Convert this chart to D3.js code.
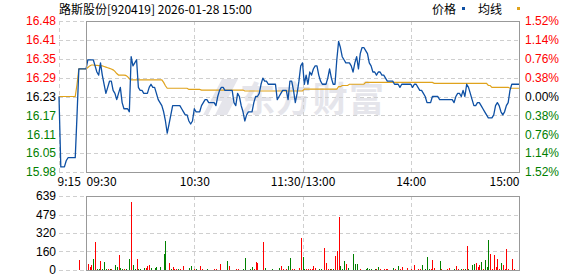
<!DOCTYPE html>
<html>
<head>
<meta charset="utf-8">
<script src="https://cdn.jsdelivr.net/npm/d3@7"></script>
<style>
  html, body { margin: 0; padding: 0; background: #fff; }
  svg { display: block; }
  .num { font-family: "Liberation Sans", Arial, sans-serif; font-size: 12px; }
  .cjk { font-family: "Noto Sans CJK SC", sans-serif; font-size: 12px; }
</style>
</head>
<body>
<div id="chart"></div>
<script>
// Intraday chart - 路斯股份 920419, 2026-01-28

// Data
const title = '路斯股份[920419] 2026-01-28 15:00';
const preClose = 16.23;

// 9:15 - 9:29 call auction, one value per minute
const preMarketPrice = [16.23, 16.00, 16.00, 16.00, 16.02, 16.03, 16.03, 16.03, 16.03, 16.03, 16.17, 16.32, 16.32, 16.32, 16.32];
const preMarketAvg = [16.23, 16.23, 16.23, 16.23, 16.23, 16.23, 16.23, 16.23, 16.23, 16.23, 16.27, 16.32, 16.32, 16.32, 16.32];

// 9:30 - 11:30 / 13:01 - 15:00, one value per minute (241)
const sessionPrice = [
  16.32, 16.35, 16.35, 16.35, 16.35, 16.33, 16.31, 16.30, 16.34, 16.30,
  16.27, 16.24, 16.26, 16.28, 16.28, 16.25, 16.24, 16.22, 16.24, 16.26,
  16.21, 16.19, 16.19, 16.19, 16.18, 16.36, 16.33, 16.34, 16.35, 16.26,
  16.25, 16.25, 16.24, 16.24, 16.24, 16.26, 16.27, 16.26, 16.26, 16.24,
  16.22, 16.21, 16.20, 16.18, 16.15, 16.11, 16.14, 16.17, 16.20, 16.20,
  16.20, 16.20, 16.20, 16.19, 16.18, 16.17, 16.17, 16.15, 16.14, 16.15,
  16.19, 16.18, 16.18, 16.18, 16.20, 16.21, 16.22, 16.22, 16.21, 16.21,
  16.21, 16.21, 16.20, 16.23, 16.25, 16.26, 16.26, 16.25, 16.25, 16.25,
  16.25, 16.25, 16.21, 16.20, 16.24, 16.23, 16.20, 16.18, 16.15, 16.17,
  16.18, 16.18, 16.18, 16.21, 16.23, 16.23, 16.24, 16.27, 16.29, 16.28,
  16.28, 16.27, 16.27, 16.27, 16.27, 16.27, 16.22, 16.23, 16.24, 16.25,
  16.25, 16.25, 16.22, 16.28, 16.28, 16.25, 16.21, 16.24, 16.28, 16.33,
  16.34, 16.27, 16.30, 16.27, 16.31, 16.30, 16.32, 16.33, 16.33, 16.30,
  16.28, 16.27, 16.27, 16.27, 16.29, 16.32, 16.29, 16.27, 16.27, 16.35,
  16.41, 16.39, 16.36, 16.35, 16.34, 16.34, 16.34, 16.33, 16.31, 16.34,
  16.36, 16.32, 16.37, 16.39, 16.39, 16.38, 16.37, 16.34, 16.33, 16.31,
  16.31, 16.30, 16.31, 16.31, 16.30, 16.30, 16.29, 16.28, 16.28, 16.28,
  16.28, 16.27, 16.27, 16.27, 16.26, 16.27, 16.27, 16.27, 16.27, 16.27,
  16.27, 16.26, 16.27, 16.27, 16.26, 16.25, 16.25, 16.24, 16.23, 16.21,
  16.21, 16.21, 16.23, 16.23, 16.23, 16.23, 16.22, 16.22, 16.22, 16.22,
  16.22, 16.22, 16.22, 16.22, 16.21, 16.23, 16.24, 16.24, 16.23, 16.25,
  16.23, 16.27, 16.26, 16.24, 16.22, 16.20, 16.20, 16.21, 16.21, 16.20,
  16.19, 16.18, 16.17, 16.16, 16.16, 16.16, 16.17, 16.20, 16.21, 16.20,
  16.18, 16.17, 16.18, 16.20, 16.21, 16.25, 16.27, 16.27, 16.27, 16.27,
  16.27
];

const sessionAvg = [
  16.320, 16.325, 16.330, 16.333, 16.333, 16.332, 16.332, 16.331, 16.331, 16.330,
  16.328, 16.326, 16.324, 16.322, 16.320, 16.317, 16.312, 16.305, 16.300, 16.300,
  16.300, 16.300, 16.299, 16.295, 16.288, 16.284, 16.284, 16.284, 16.284, 16.284,
  16.284, 16.284, 16.284, 16.284, 16.284, 16.284, 16.284, 16.284, 16.284, 16.284,
  16.284, 16.284, 16.284, 16.276, 16.265, 16.257, 16.257, 16.257, 16.257, 16.257,
  16.257, 16.257, 16.257, 16.257, 16.257, 16.257, 16.257, 16.253, 16.253, 16.253,
  16.253, 16.253, 16.253, 16.253, 16.251, 16.251, 16.251, 16.251, 16.251, 16.251,
  16.251, 16.251, 16.251, 16.251, 16.251, 16.251, 16.251, 16.251, 16.251, 16.251,
  16.251, 16.251, 16.251, 16.251, 16.251, 16.251, 16.251, 16.251, 16.248, 16.248,
  16.248, 16.248, 16.248, 16.248, 16.248, 16.248, 16.248, 16.248, 16.248, 16.248,
  16.248, 16.248, 16.248, 16.248, 16.248, 16.248, 16.248, 16.248, 16.248, 16.248,
  16.248, 16.248, 16.248, 16.248, 16.248, 16.248, 16.248, 16.248, 16.248, 16.248,
  16.248, 16.254, 16.254, 16.254, 16.254, 16.254, 16.254, 16.254, 16.254, 16.254,
  16.254, 16.254, 16.254, 16.254, 16.254, 16.254, 16.254, 16.254, 16.254, 16.254,
  16.262, 16.262, 16.266, 16.266, 16.266, 16.266, 16.270, 16.270, 16.270, 16.270,
  16.270, 16.270, 16.270, 16.270, 16.270, 16.276, 16.276, 16.276, 16.276, 16.276,
  16.276, 16.276, 16.276, 16.276, 16.276, 16.276, 16.276, 16.276, 16.276, 16.276,
  16.276, 16.276, 16.276, 16.276, 16.276, 16.276, 16.276, 16.276, 16.276, 16.276,
  16.276, 16.276, 16.276, 16.276, 16.276, 16.276, 16.276, 16.276, 16.276, 16.276,
  16.276, 16.276, 16.276, 16.273, 16.273, 16.273, 16.273, 16.273, 16.273, 16.273,
  16.273, 16.273, 16.273, 16.273, 16.273, 16.273, 16.273, 16.273, 16.273, 16.273,
  16.273, 16.273, 16.273, 16.273, 16.273, 16.273, 16.273, 16.273, 16.273, 16.273,
  16.273, 16.273, 16.273, 16.266, 16.266, 16.260, 16.260, 16.260, 16.260, 16.260,
  16.260, 16.260, 16.260, 16.260, 16.260, 16.257, 16.257, 16.257, 16.257, 16.257,
  16.257
];

// Volume bars (minute from 9:30, negative = call auction), only the visible ones
const volMinute = [
  -4, 1, 2, 3, 4, 5, 6, 7, 8, 9, 10, 11, 12, 13, 14, 16, 17, 18, 19, 20,
  21, 22, 24, 25, 26, 27, 28, 29, 30, 32, 33, 34, 35, 36, 38, 39, 41, 43, 44, 46,
  47, 48, 49, 50, 51, 52, 54, 57, 58, 60, 61, 63, 64, 67, 71, 72, 74, 78, 79, 83,
  84, 87, 88, 91, 92, 93, 94, 95, 98, 99, 103, 107, 108, 109, 111, 112, 113, 114, 115, 118,
  119, 120, 121, 122, 123, 124, 125, 126, 127, 129, 130, 132, 133, 134, 135, 136, 137, 138, 139, 140,
  141, 142, 143, 144, 145, 148, 149, 150, 152, 155, 156, 157, 158, 160, 161, 162, 163, 165, 166, 167,
  170, 171, 173, 174, 175, 178, 180, 182, 184, 185, 186, 188, 189, 190, 191, 192, 193, 196, 197, 200,
  201, 204, 205, 206, 208, 209, 210, 211, 212, 214, 215, 216, 217, 218, 219, 220, 221, 222, 223, 224,
  225, 226, 227, 228, 229, 230, 231, 232, 233, 234, 236, 237, 240
];
const volValue = [
  87, 52, 23, 43, 95, 243, 9, 9, 78, 9, 69, 9, 9, 9, 9, 43, 29, 130, 17, 9,
  9, 9, 95, 590, 43, 9, 95, 9, 9, 17, 17, 35, 43, 17, 17, 26, 26, 139, 252, 64,
  9, 26, 9, 9, 9, 9, 35, 17, 35, 9, 9, 35, 9, 9, 9, 9, 52, 78, 35, 9,
  9, 9, 104, 9, 26, 9, 69, 61, 243, 17, 9, 17, 35, 9, 9, 35, 104, 9, 9, 17,
  278, 113, 9, 9, 9, 9, 9, 35, 17, 9, 9, 191, 64, 9, 9, 9, 9, 124, 165, 454,
  35, 9, 78, 52, 17, 139, 52, 52, 9, 9, 17, 9, 9, 9, 9, 26, 9, 9, 9, 9,
  17, 9, 35, 9, 26, 17, 9, 43, 9, 9, 43, 9, 113, 9, 9, 87, 17, 78, 9, 9,
  17, 9, 35, 9, 9, 9, 9, 208, 9, 43, 52, 61, 26, 43, 69, 9, 87, 26, 260, 139,
  9, 130, 26, 95, 9, 61, 43, 9, 182, 9, 95, 9, 26
];
// 1 = price up (red), 0 = price down (green)
const volUp = [
  1, 1, 1, 1, 0, 1, 0, 0, 1, 0, 0, 0, 1, 0, 1, 0, 0, 1, 0, 0,
  1, 0, 0, 1, 0, 0, 1, 0, 0, 0, 1, 1, 1, 0, 0, 0, 0, 0, 0, 1,
  0, 1, 1, 1, 0, 1, 1, 0, 0, 1, 0, 1, 1, 0, 1, 1, 1, 0, 1, 1,
  1, 0, 0, 0, 0, 1, 1, 1, 1, 0, 0, 0, 1, 1, 1, 0, 0, 1, 1, 1,
  1, 0, 0, 1, 1, 1, 1, 1, 1, 0, 0, 1, 1, 1, 0, 1, 0, 1, 1, 1,
  0, 0, 0, 1, 0, 0, 0, 0, 1, 0, 0, 0, 0, 0, 1, 0, 1, 1, 1, 1,
  0, 1, 0, 1, 1, 1, 1, 1, 1, 1, 0, 0, 0, 0, 1, 1, 1, 0, 1, 1,
  1, 0, 1, 1, 0, 1, 0, 1, 0, 0, 0, 1, 1, 1, 0, 1, 0, 0, 0, 1,
  1, 1, 1, 1, 1, 0, 1, 1, 1, 1, 1, 1, 1
];

// Axis ticks
const pctTicks = [1.52, 1.14, 0.76, 0.38, 0, -0.38, -0.76, -1.14, -1.52];
const priceLabels = ['16.48', '16.41', '16.35', '16.29', '16.23', '16.17', '16.11', '16.05', '15.98'];
const pctLabels = ['1.52%', '1.14%', '0.76%', '0.38%', '0.00%', '0.38%', '0.76%', '1.14%', '1.52%'];
const timeTicks = [-15, 0, 60, 120, 180, 240];
const timeLabels = ['9:15', '09:30', '10:30', '11:30/13:00', '14:00', '15:00'];
const volTicks = [0, 160, 320, 479, 639];

// Layout
const width = 578;
const height = 276;
const colors = {
  up: '#ff0000',
  down: '#008000',
  flat: '#000000',
  price: '#0e50a4',
  avg: '#e0a31c',
  grid: '#cfcfcf',
  border: '#999999',
};

const x = d3.scaleLinear().domain([-15, 240]).range([59, 519]);
const yPct = d3.scaleLinear().domain([-1.52, 1.52]).range([172, 21]);
const yPrice = d3.scaleLinear()
  .domain([preClose * (1 - 0.0152), preClose * (1 + 0.0152)])
  .range([172, 21]);
const yVol = d3.scaleLinear().domain([0, 639]).range([270, 196]);

const crisp = v => Math.round(v) + 0.5;
const pctColor = d => d > 0 ? colors.up : (d < 0 ? colors.down : colors.flat);

const svg = d3.select('#chart')
  .append('svg')
  .attr('width', width)
  .attr('height', height);

svg.append('rect').attr('width', width).attr('height', height).attr('fill', '#fff');

// Watermark
const wm = svg.append('g').attr('fill', '#e5e5eb');
wm.append('path').attr('d', 'M203,115 L222,79 L238,79 L228,98 L236,98 L227,115 L215,115 L222,101 L215,101 L208,115 Z');
wm.append('text')
  .attr('x', 240)
  .attr('y', 112)
  .attr('font-family', '"Noto Sans CJK SC", sans-serif')
  .attr('font-weight', 'bold')
  .attr('font-size', 35)
  .attr('textLength', 144)
  .text('东方财富');

// Grid
const grid = svg.append('g')
  .attr('stroke', colors.grid)
  .attr('stroke-dasharray', '4,3')
  .attr('fill', 'none');

grid.selectAll('.hgrid')
  .data(pctTicks)
  .enter()
  .append('line')
  .attr('x1', x(-15))
  .attr('x2', x(240))
  .attr('y1', d => crisp(yPct(d)))
  .attr('y2', d => crisp(yPct(d)));

grid.selectAll('.vgrid')
  .data([-15, 60, 120, 180])
  .enter()
  .append('line')
  .attr('x1', d => crisp(x(d)))
  .attr('x2', d => crisp(x(d)))
  .attr('y1', yPct(1.52))
  .attr('y2', yPct(-1.52));

grid.selectAll('.vhgrid')
  .data(volTicks)
  .enter()
  .append('line')
  .attr('x1', x(-15))
  .attr('x2', x(240))
  .attr('y1', d => crisp(yVol(d)))
  .attr('y2', d => crisp(yVol(d)));

grid.selectAll('.vvgrid')
  .data([60, 120, 180])
  .enter()
  .append('line')
  .attr('x1', d => crisp(x(d)))
  .attr('x2', d => crisp(x(d)))
  .attr('y1', yVol(639))
  .attr('y2', yVol(0));

// Price and average lines
const pricePoints = preMarketPrice.map((p, i) => ({ t: i - 15, p }))
  .concat(sessionPrice.map((p, i) => ({ t: i, p })));
const avgPoints = preMarketAvg.map((p, i) => ({ t: i - 15, p }))
  .concat(sessionAvg.map((p, i) => ({ t: i, p })));

const line = d3.line()
  .x(d => x(d.t))
  .y(d => yPrice(d.p));

svg.append('path')
  .datum(avgPoints)
  .attr('d', line)
  .attr('fill', 'none')
  .attr('stroke', colors.avg)
  .attr('stroke-width', 1.2);

svg.append('path')
  .datum(pricePoints)
  .attr('d', line)
  .attr('fill', 'none')
  .attr('stroke', colors.price)
  .attr('stroke-width', 1.3)
  .attr('stroke-linejoin', 'round');

// Volume bars
const bars = volMinute.map((t, i) => ({ t, v: volValue[i], up: volUp[i] }));
svg.append('g')
  .attr('shape-rendering', 'crispEdges')
  .selectAll('rect')
  .data(bars)
  .enter()
  .append('rect')
  .attr('x', d => Math.round(x(d.t)))
  .attr('width', 1)
  .attr('y', d => yVol(d.v))
  .attr('height', d => yVol(0) - yVol(d.v))
  .attr('fill', d => d.up ? colors.up : colors.down);

// Panel borders
const boxX = crisp(x(0));
const boxW = crisp(x(240)) - boxX;
svg.append('rect')
  .attr('x', boxX).attr('y', crisp(yPct(1.52)))
  .attr('width', boxW).attr('height', crisp(yPct(-1.52)) - crisp(yPct(1.52)))
  .attr('fill', 'none').attr('stroke', colors.border);
svg.append('rect')
  .attr('x', boxX).attr('y', crisp(yVol(639)))
  .attr('width', boxW).attr('height', crisp(yVol(0)) - crisp(yVol(639)))
  .attr('fill', 'none').attr('stroke', colors.border);

// Axes
const leftAxis = svg.append('g')
  .attr('class', 'num')
  .attr('transform', `translate(${x(-15)},0)`)
  .call(d3.axisLeft(yPct).tickValues(pctTicks).tickSize(0).tickPadding(3)
    .tickFormat((d, i) => priceLabels[i]));

const rightAxis = svg.append('g')
  .attr('class', 'num')
  .attr('transform', `translate(${x(240)},0)`)
  .call(d3.axisRight(yPct).tickValues(pctTicks).tickSize(0).tickPadding(6)
    .tickFormat((d, i) => pctLabels[i]));

[leftAxis, rightAxis].forEach(g => {
  g.select('.domain').remove();
  g.selectAll('text').attr('fill', d => pctColor(d));
});

const volAxis = svg.append('g')
  .attr('class', 'num')
  .attr('transform', `translate(${x(-15)},0)`)
  .call(d3.axisLeft(yVol).tickValues(volTicks).tickSize(0).tickPadding(3)
    .tickFormat(d3.format('d')));
volAxis.select('.domain').remove();
volAxis.selectAll('text').attr('fill', '#000');

const timeAxis = svg.append('g')
  .attr('class', 'cjk')
  .attr('transform', `translate(0,${yPct(-1.52)})`)
  .call(d3.axisBottom(x).tickValues(timeTicks).tickSize(0).tickPadding(5)
    .tickFormat((d, i) => timeLabels[i]));
timeAxis.select('.domain').remove();
timeAxis.selectAll('text')
  .attr('fill', '#000')
  .attr('text-anchor', (d, i) => i < 2 ? 'start' : (i === timeTicks.length - 1 ? 'end' : 'middle'))
  .attr('dx', (d, i) => i === 0 ? -2 : 0);

// Header
svg.append('text')
  .attr('class', 'cjk')
  .attr('x', x(-15))
  .attr('y', 14)
  .attr('fill', '#000')
  .text(title);

const legend = [
  { label: '价格', color: colors.price, tx: 432, mx: 462 },
  { label: '均线', color: colors.avg, tx: 478, mx: 517 },
];
legend.forEach(d => {
  svg.append('text')
    .attr('class', 'cjk')
    .attr('x', d.tx)
    .attr('y', 14)
    .attr('fill', '#000')
    .text(d.label);
  svg.append('rect')
    .attr('x', d.mx)
    .attr('y', 7)
    .attr('width', 3)
    .attr('height', 3)
    .attr('fill', d.color);
});
</script>
</body>
</html>
